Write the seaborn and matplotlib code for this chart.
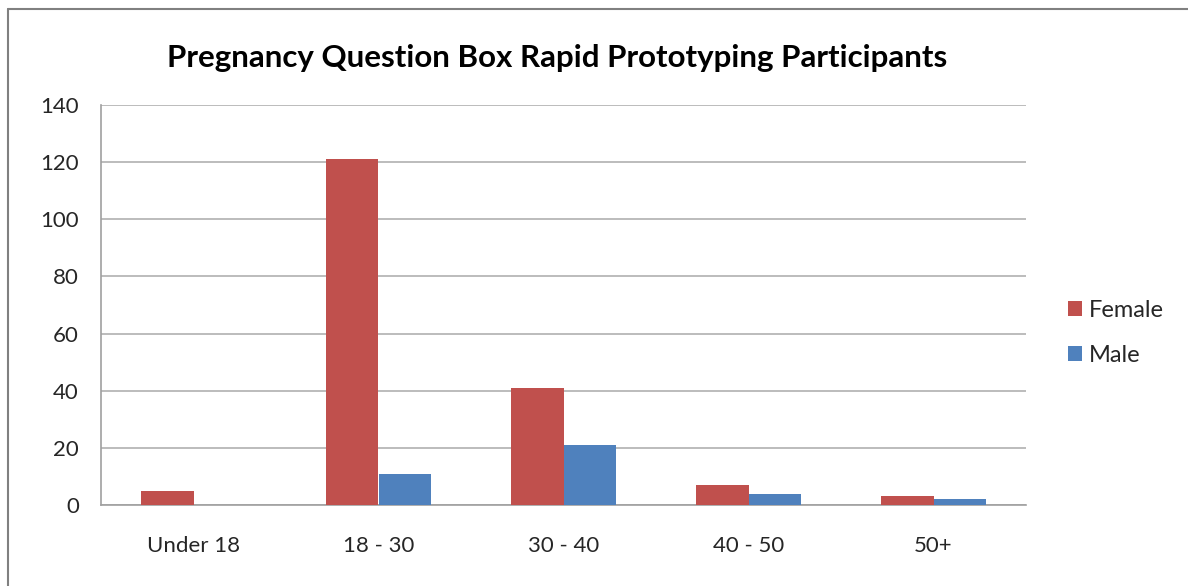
import matplotlib
matplotlib.use("Agg")
import matplotlib.pyplot as plt
import seaborn as sns
import pandas as pd
from matplotlib.lines import Line2D

categories = ["Under 18", "18 - 30", "30 - 40", "40 - 50", "50+"]
female = [5, 121, 41, 7, 3]
male = [0, 11, 21, 4, 2]
series = ["Female", "Male"]
colors = ["#C0504D", "#4F81BD"]
yticks = [0, 20, 40, 60, 80, 100, 120, 140]
title = "Pregnancy Question Box Rapid Prototyping Participants"

sns.set_theme(style="white")
plt.rcParams['font.family'] = ['Lato', 'DejaVu Sans']

df = pd.DataFrame({
    "Age": categories * 2,
    "Count": female + male,
    "Sex": [series[0]] * len(categories) + [series[1]] * len(categories),
})

fig = plt.figure(figsize=(11.88, 5.86), dpi=100)
ax = fig.add_axes([101/1188, 1 - 505/586, 925/1188, 400/586])

sns.barplot(data=df, x="Age", y="Count", hue="Sex", palette=colors,
            width=0.57, ax=ax, saturation=1, zorder=3, linewidth=0)

ax.set_ylim(0, 140)
ax.set_yticks(yticks)
ax.set_xlim(-0.5, len(categories) - 0.5)
ax.set_xlabel("")
ax.set_ylabel("")
ax.yaxis.grid(True, color="#B0B0B0", linewidth=1.2, zorder=0)
ax.set_axisbelow(True)
for s in ["top", "right"]:
    ax.spines[s].set_visible(False)
for s in ["left", "bottom"]:
    ax.spines[s].set_color("#A0A0A0")
    ax.spines[s].set_linewidth(1.2)
ax.tick_params(axis="both", length=0, labelsize=16, colors="#262626")
ax.tick_params(axis="y", pad=16)
ax.tick_params(axis="x", pad=22)

leg = ax.legend(loc="center left", bbox_to_anchor=(1.045, 0.43), frameon=False,
                fontsize=17, handlelength=0.6, handleheight=0.6,
                labelspacing=1.0, handletextpad=0.3, borderpad=0, borderaxespad=0)
for t in leg.get_texts():
    t.set_color("#262626")

fig.text(557/1188, 1 - 58/586, title, ha="center", va="center",
         fontsize=22.5, fontweight="bold", color="black")

fig.add_artist(Line2D([8/1188, 8/1188], [0, 1 - 9/586], transform=fig.transFigure,
                      color="#808080", linewidth=1.5))
fig.add_artist(Line2D([8/1188, 1], [1 - 9/586, 1 - 9/586], transform=fig.transFigure,
                      color="#808080", linewidth=1.5))

fig.savefig("out.png", dpi=100)
